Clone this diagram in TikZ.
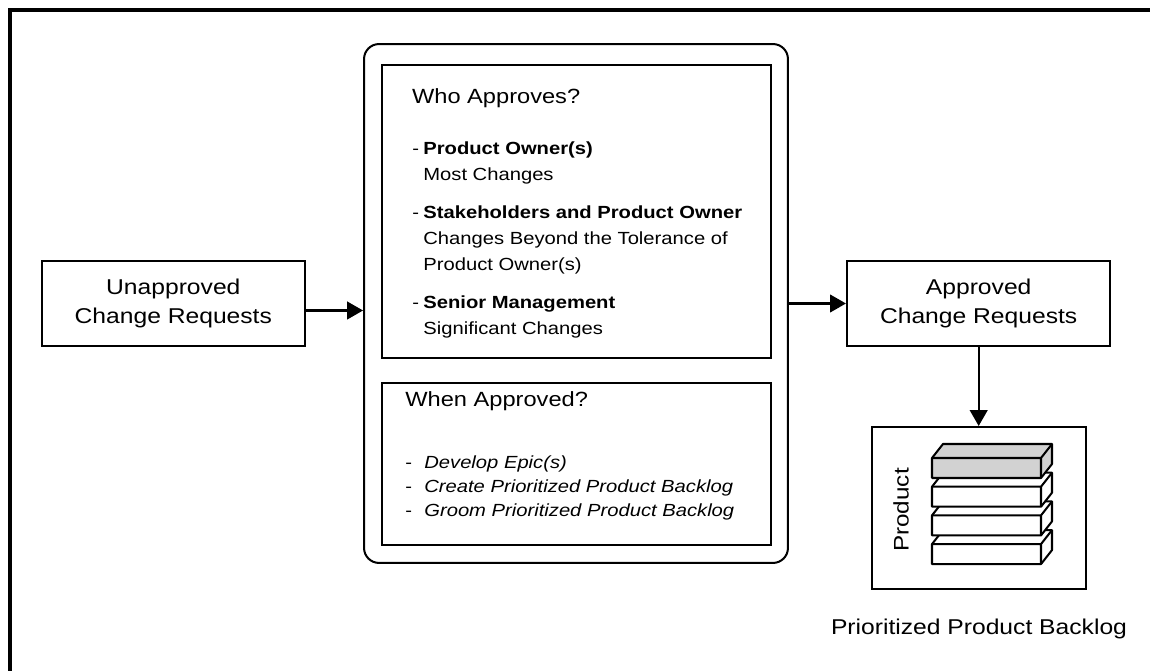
\documentclass[tikz,border=0pt]{standalone}
\usepackage{fontspec}
\setmainfont{Liberation Sans}[FakeStretch=1.15]
\usetikzlibrary{positioning, arrows.meta}

\tikzset{
  crbox/.style={draw, line width=1.15pt, minimum width=5.27cm, minimum height=1.7cm,
    align=center, font=\fontsize{12.2}{16.5}\selectfont},
  panel/.style={draw, line width=1.15pt, minimum width=7.78cm},
  flow/.style={-{Triangle[length=9pt,width=10pt]}, line width=1.15pt},
  heading/.style={anchor=base west, inner sep=0pt, font=\fontsize{11.7}{14}\selectfont},
  entries/.style={anchor=base west, inner sep=0pt, align=left},
  slab/.style={draw, line width=1.15pt, line join=round}
}

\newcommand{\dashitem}[1]{\makebox[6.26pt][l]{-}#1}
\newcommand{\stepitem}[1]{\makebox[10.8pt][l]{-}\textit{#1}}

\begin{document}
\begin{tikzpicture}[x=0.02cm, y=-0.02cm]
\useasboundingbox (0,0) rectangle (1150,671);
% frame, open at right and bottom
\draw[line width=2.3pt] (1150,10) -- (10,10) -- (10,671);

\node[draw, line width=1.15pt, rounded corners=0.3cm, minimum width=8.48cm,
  minimum height=10.38cm] (approval) at (576,303.5) {};
\node[crbox, left=1.14cm of approval] (unapproved) {Unapproved\\Change Requests};
\node[crbox, right=1.14cm of approval] (approved) {Approved\\Change Requests};
\node[draw, line width=1.15pt, minimum width=4.28cm, minimum height=3.24cm,
  below=1.58cm of approved] (backlog) {};

\node[panel, minimum height=5.86cm] (who) at (576.5,211.5) {};
\node[panel, minimum height=3.24cm, below=0.46cm of who] (when) {};

% who approves (base of a list = its last line)
\node[heading] (whohead) at (411.7,104) {Who Approves?};
\node[entries, font=\fontsize{10}{14.8}\selectfont] (wholist) at (412,335) {%
  \dashitem{\textbf{Product Owner(s)}}\\
  \hspace*{6.26pt}Most Changes\\[6.83pt]
  \dashitem{\textbf{Stakeholders and Product Owner}}\\
  \hspace*{6.26pt}Changes Beyond the Tolerance of\\
  \hspace*{6.26pt}Product Owner(s)\\[6.83pt]
  \dashitem{\textbf{Senior Management}}\\
  \hspace*{6.26pt}Significant Changes};

% when approved
\node[heading] (whenhead) at (405,406.7) {When Approved?};
\node[entries, font=\fontsize{10}{13.66}\selectfont] (whenlist) at (405,516.7) {%
  \stepitem{Develop Epic(s)}\\
  \stepitem{Create Prioritized Product Backlog}\\
  \stepitem{Groom Prioritized Product Backlog}};

\draw[flow] ([yshift=-0.14cm]unapproved.east) -- ([yshift=-0.14cm]unapproved.east -| approval.west);
\draw[flow] (approval.east |- approved.west) -- (approved.west);
\draw[flow] (approved.south) -- (backlog.north);

% backlog stack
\foreach \i/\slabfill in {3/white, 2/white, 1/white, 0/gray!35} {
  \pgfmathsetmacro\slabtop{458+28.7*\i}
  \draw[slab, fill=\slabfill] (932,\slabtop) -- (943,\slabtop-14) -- (1052,\slabtop-14)
    -- (1052,\slabtop+6) -- (1041,\slabtop+20) -- (932,\slabtop+20) -- cycle;
  \draw[slab] (932,\slabtop) -- (1041,\slabtop) -- (1041,\slabtop+20)
    (1041,\slabtop) -- (1052,\slabtop-14);
}
\node[rotate=90, font=\fontsize{12}{14}\selectfont] (productlabel) at (901,510) {Product};
\node[anchor=base, font=\fontsize{12.2}{14}\selectfont] (backlogcaption) at (979,635)
  {Prioritized Product Backlog};
\end{tikzpicture}
\end{document}
